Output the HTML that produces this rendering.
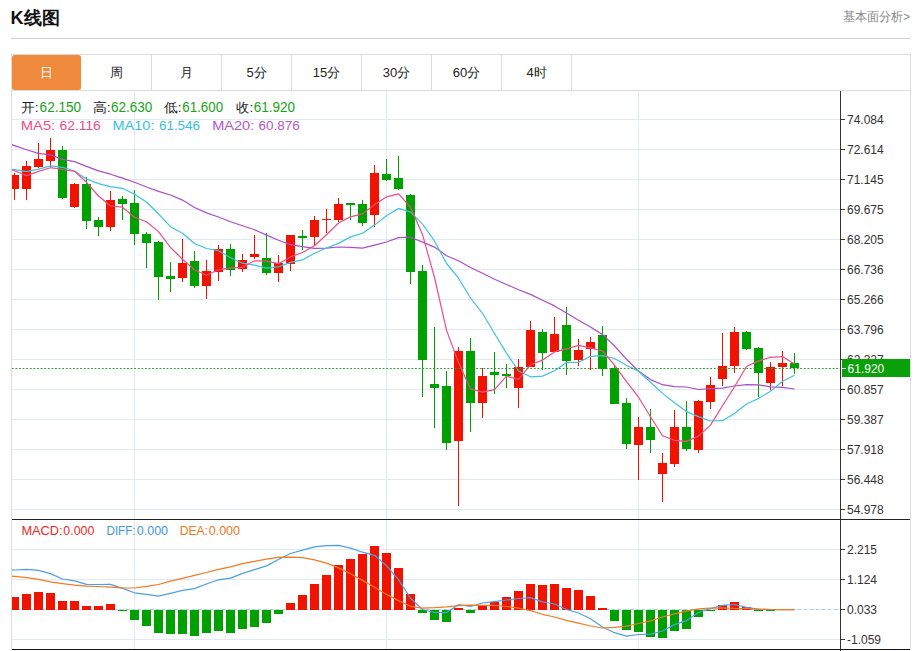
<!DOCTYPE html>
<html><head><meta charset="utf-8"><title>K线图</title>
<style>
html,body{margin:0;padding:0;background:#fff;}
body{width:915px;height:651px;overflow:hidden;font-family:'Liberation Sans', sans-serif;}
svg{display:block;font-family:'Liberation Sans', sans-serif;}
</style></head><body>
<svg width="915" height="651" viewBox="0 0 915 651" shape-rendering="crispEdges">
<defs>
<clipPath id="cm"><rect x="12" y="91" width="828" height="428"/></clipPath>
<clipPath id="cd"><rect x="12" y="520" width="828" height="129"/></clipPath>
</defs>
<rect x="11" y="38" width="900" height="1" fill="#cfcfcf"/>
<rect x="11" y="54" width="900" height="1" fill="#dcdcdc"/>
<rect x="11" y="90" width="900" height="1" fill="#dcdcdc"/>
<rect x="11" y="54" width="1" height="596" fill="#dcdcdc"/>
<rect x="910" y="54" width="1" height="596" fill="#dcdcdc"/>
<rect x="151" y="55" width="1" height="35" fill="#dcdcdc"/>
<rect x="221" y="55" width="1" height="35" fill="#dcdcdc"/>
<rect x="291" y="55" width="1" height="35" fill="#dcdcdc"/>
<rect x="361" y="55" width="1" height="35" fill="#dcdcdc"/>
<rect x="431" y="55" width="1" height="35" fill="#dcdcdc"/>
<rect x="501" y="55" width="1" height="35" fill="#dcdcdc"/>
<rect x="571" y="55" width="1" height="35" fill="#dcdcdc"/>
<rect x="12" y="55" width="69" height="35" rx="2.5" fill="#ef893c" shape-rendering="geometricPrecision"/>
<text x="46.5" y="76.6" font-size="13" fill="#fff" text-anchor="middle">日</text>
<text x="116.5" y="76.6" font-size="13" fill="#222" text-anchor="middle">周</text>
<text x="186.5" y="76.6" font-size="13" fill="#222" text-anchor="middle">月</text>
<text x="256.5" y="76.6" font-size="13" fill="#222" text-anchor="middle">5分</text>
<text x="326.5" y="76.6" font-size="13" fill="#222" text-anchor="middle">15分</text>
<text x="396.5" y="76.6" font-size="13" fill="#222" text-anchor="middle">30分</text>
<text x="466.5" y="76.6" font-size="13" fill="#222" text-anchor="middle">60分</text>
<text x="536.5" y="76.6" font-size="13" fill="#222" text-anchor="middle">4时</text>
<rect x="12" y="119" width="828" height="1" fill="#dfeaf2"/>
<rect x="12" y="149" width="828" height="1" fill="#dfeaf2"/>
<rect x="12" y="179" width="828" height="1" fill="#dfeaf2"/>
<rect x="12" y="209" width="828" height="1" fill="#dfeaf2"/>
<rect x="12" y="239" width="828" height="1" fill="#dfeaf2"/>
<rect x="12" y="269" width="828" height="1" fill="#dfeaf2"/>
<rect x="12" y="299" width="828" height="1" fill="#dfeaf2"/>
<rect x="12" y="329" width="828" height="1" fill="#dfeaf2"/>
<rect x="12" y="359" width="828" height="1" fill="#dfeaf2"/>
<rect x="12" y="389" width="828" height="1" fill="#dfeaf2"/>
<rect x="12" y="419" width="828" height="1" fill="#dfeaf2"/>
<rect x="12" y="449" width="828" height="1" fill="#dfeaf2"/>
<rect x="12" y="479" width="828" height="1" fill="#dfeaf2"/>
<rect x="12" y="509" width="828" height="1" fill="#dfeaf2"/>
<rect x="12" y="549" width="828" height="1" fill="#dfeaf2"/>
<rect x="12" y="579" width="828" height="1" fill="#dfeaf2"/>
<rect x="12" y="609" width="828" height="1" fill="#dfeaf2"/>
<rect x="12" y="639" width="828" height="1" fill="#dfeaf2"/>
<rect x="134" y="91" width="1" height="558" fill="#dfeaf2"/>
<rect x="386" y="91" width="1" height="558" fill="#dfeaf2"/>
<rect x="638" y="91" width="1" height="558" fill="#dfeaf2"/>
<g clip-path="url(#cm)">
<rect x="14" y="173.1" width="1" height="26.7" fill="#f01400"/>
<rect x="10" y="174.5" width="9" height="14.3" fill="#f01400"/>
<rect x="26" y="160.8" width="1" height="39.0" fill="#f01400"/>
<rect x="22" y="166.2" width="9" height="22.6" fill="#f01400"/>
<rect x="38" y="143.0" width="1" height="24.7" fill="#f01400"/>
<rect x="34" y="158.8" width="9" height="8.2" fill="#f01400"/>
<rect x="50" y="138.1" width="1" height="28.4" fill="#f01400"/>
<rect x="46" y="149.9" width="9" height="11.1" fill="#f01400"/>
<rect x="62" y="146.0" width="1" height="52.7" fill="#00a000"/>
<rect x="58" y="149.9" width="9" height="48.1" fill="#00a000"/>
<rect x="74" y="183.0" width="1" height="24.5" fill="#f01400"/>
<rect x="70" y="183.8" width="9" height="23.4" fill="#f01400"/>
<rect x="86" y="176.5" width="1" height="52.2" fill="#00a000"/>
<rect x="82" y="183.8" width="9" height="37.2" fill="#00a000"/>
<rect x="98" y="217.1" width="1" height="18.6" fill="#00a000"/>
<rect x="94" y="220.4" width="9" height="6.8" fill="#00a000"/>
<rect x="110" y="191.3" width="1" height="39.3" fill="#f01400"/>
<rect x="106" y="200.0" width="9" height="27.4" fill="#f01400"/>
<rect x="122" y="196.3" width="1" height="23.7" fill="#00a000"/>
<rect x="118" y="198.9" width="9" height="5.1" fill="#00a000"/>
<rect x="134" y="189.9" width="1" height="55.0" fill="#00a000"/>
<rect x="130" y="203.2" width="9" height="31.0" fill="#00a000"/>
<rect x="146" y="232.0" width="1" height="35.8" fill="#00a000"/>
<rect x="142" y="233.7" width="9" height="9.4" fill="#00a000"/>
<rect x="158" y="241.0" width="1" height="58.7" fill="#00a000"/>
<rect x="154" y="241.6" width="9" height="35.0" fill="#00a000"/>
<rect x="170" y="261.9" width="1" height="30.4" fill="#00a000"/>
<rect x="166" y="275.9" width="9" height="3.5" fill="#00a000"/>
<rect x="182" y="238.8" width="1" height="42.8" fill="#f01400"/>
<rect x="178" y="262.8" width="9" height="14.9" fill="#f01400"/>
<rect x="194" y="251.2" width="1" height="36.5" fill="#00a000"/>
<rect x="190" y="261.0" width="9" height="25.4" fill="#00a000"/>
<rect x="206" y="260.0" width="1" height="38.7" fill="#f01400"/>
<rect x="202" y="271.2" width="9" height="14.4" fill="#f01400"/>
<rect x="218" y="245.2" width="1" height="35.5" fill="#f01400"/>
<rect x="214" y="249.4" width="9" height="22.5" fill="#f01400"/>
<rect x="230" y="244.2" width="1" height="31.9" fill="#00a000"/>
<rect x="226" y="249.4" width="9" height="20.1" fill="#00a000"/>
<rect x="242" y="253.8" width="1" height="18.1" fill="#f01400"/>
<rect x="238" y="259.9" width="9" height="8.9" fill="#f01400"/>
<rect x="254" y="235.4" width="1" height="23.2" fill="#f01400"/>
<rect x="250" y="253.8" width="9" height="3.3" fill="#f01400"/>
<rect x="266" y="233.2" width="1" height="41.5" fill="#00a000"/>
<rect x="262" y="258.1" width="9" height="14.7" fill="#00a000"/>
<rect x="278" y="254.9" width="1" height="26.8" fill="#f01400"/>
<rect x="274" y="262.7" width="9" height="10.1" fill="#f01400"/>
<rect x="290" y="234.7" width="1" height="36.3" fill="#f01400"/>
<rect x="286" y="235.4" width="9" height="28.2" fill="#f01400"/>
<rect x="302" y="229.9" width="1" height="20.2" fill="#00a000"/>
<rect x="298" y="236.1" width="9" height="1.9" fill="#00a000"/>
<rect x="314" y="216.0" width="1" height="28.5" fill="#f01400"/>
<rect x="310" y="219.5" width="9" height="17.0" fill="#f01400"/>
<rect x="326" y="209.0" width="1" height="23.6" fill="#f01400"/>
<rect x="322" y="218.6" width="9" height="1.8" fill="#f01400"/>
<rect x="338" y="197.6" width="1" height="23.9" fill="#f01400"/>
<rect x="334" y="203.5" width="9" height="16.9" fill="#f01400"/>
<rect x="350" y="203.0" width="1" height="17.0" fill="#00a000"/>
<rect x="346" y="203.1" width="9" height="1.8" fill="#00a000"/>
<rect x="362" y="200.1" width="1" height="25.5" fill="#00a000"/>
<rect x="358" y="204.0" width="9" height="18.8" fill="#00a000"/>
<rect x="374" y="165.1" width="1" height="61.4" fill="#f01400"/>
<rect x="370" y="173.2" width="9" height="41.7" fill="#f01400"/>
<rect x="386" y="158.8" width="1" height="22.5" fill="#00a000"/>
<rect x="382" y="174.0" width="9" height="5.9" fill="#00a000"/>
<rect x="398" y="155.9" width="1" height="34.3" fill="#00a000"/>
<rect x="394" y="178.0" width="9" height="10.7" fill="#00a000"/>
<rect x="410" y="193.7" width="1" height="90.4" fill="#00a000"/>
<rect x="406" y="194.7" width="9" height="76.8" fill="#00a000"/>
<rect x="422" y="265.4" width="1" height="131.5" fill="#00a000"/>
<rect x="418" y="271.1" width="9" height="88.5" fill="#00a000"/>
<rect x="434" y="326.8" width="1" height="101.2" fill="#00a000"/>
<rect x="430" y="383.6" width="9" height="4.1" fill="#00a000"/>
<rect x="446" y="370.8" width="1" height="78.8" fill="#00a000"/>
<rect x="442" y="385.7" width="9" height="57.3" fill="#00a000"/>
<rect x="458" y="346.5" width="1" height="159.2" fill="#f01400"/>
<rect x="454" y="351.0" width="9" height="90.2" fill="#f01400"/>
<rect x="470" y="338.3" width="1" height="93.6" fill="#00a000"/>
<rect x="466" y="351.0" width="9" height="51.6" fill="#00a000"/>
<rect x="482" y="368.2" width="1" height="49.5" fill="#f01400"/>
<rect x="478" y="376.0" width="9" height="27.4" fill="#f01400"/>
<rect x="494" y="351.9" width="1" height="42.4" fill="#00a000"/>
<rect x="490" y="372.0" width="9" height="3.3" fill="#00a000"/>
<rect x="506" y="364.3" width="1" height="24.0" fill="#00a000"/>
<rect x="502" y="374.2" width="9" height="1.9" fill="#00a000"/>
<rect x="518" y="359.0" width="1" height="49.4" fill="#f01400"/>
<rect x="514" y="366.8" width="9" height="20.8" fill="#f01400"/>
<rect x="530" y="320.9" width="1" height="46.4" fill="#f01400"/>
<rect x="526" y="329.8" width="9" height="37.5" fill="#f01400"/>
<rect x="542" y="329.4" width="1" height="40.9" fill="#00a000"/>
<rect x="538" y="332.0" width="9" height="20.6" fill="#00a000"/>
<rect x="554" y="317.2" width="1" height="34.3" fill="#f01400"/>
<rect x="550" y="334.0" width="9" height="17.5" fill="#f01400"/>
<rect x="566" y="307.3" width="1" height="67.6" fill="#00a000"/>
<rect x="562" y="324.8" width="9" height="35.8" fill="#00a000"/>
<rect x="578" y="338.6" width="1" height="27.1" fill="#f01400"/>
<rect x="574" y="350.0" width="9" height="9.6" fill="#f01400"/>
<rect x="590" y="337.1" width="1" height="32.7" fill="#f01400"/>
<rect x="586" y="341.8" width="9" height="6.8" fill="#f01400"/>
<rect x="602" y="326.2" width="1" height="49.6" fill="#00a000"/>
<rect x="598" y="335.3" width="9" height="33.3" fill="#00a000"/>
<rect x="614" y="365.3" width="1" height="39.0" fill="#00a000"/>
<rect x="610" y="367.5" width="9" height="36.8" fill="#00a000"/>
<rect x="626" y="397.8" width="1" height="51.2" fill="#00a000"/>
<rect x="622" y="403.2" width="9" height="40.6" fill="#00a000"/>
<rect x="638" y="416.6" width="1" height="63.4" fill="#f01400"/>
<rect x="634" y="427.3" width="9" height="17.4" fill="#f01400"/>
<rect x="650" y="409.1" width="1" height="43.6" fill="#00a000"/>
<rect x="646" y="427.3" width="9" height="12.8" fill="#00a000"/>
<rect x="662" y="453.2" width="1" height="48.9" fill="#f01400"/>
<rect x="658" y="463.2" width="9" height="10.7" fill="#f01400"/>
<rect x="674" y="409.7" width="1" height="56.8" fill="#f01400"/>
<rect x="670" y="427.2" width="9" height="36.7" fill="#f01400"/>
<rect x="686" y="401.0" width="1" height="49.8" fill="#00a000"/>
<rect x="682" y="427.2" width="9" height="22.2" fill="#00a000"/>
<rect x="698" y="400.0" width="1" height="52.7" fill="#f01400"/>
<rect x="694" y="400.8" width="9" height="48.7" fill="#f01400"/>
<rect x="710" y="377.3" width="1" height="31.2" fill="#f01400"/>
<rect x="706" y="385.1" width="9" height="16.7" fill="#f01400"/>
<rect x="722" y="332.7" width="1" height="52.9" fill="#f01400"/>
<rect x="718" y="366.2" width="9" height="12.4" fill="#f01400"/>
<rect x="734" y="327.0" width="1" height="45.7" fill="#f01400"/>
<rect x="730" y="332.0" width="9" height="34.3" fill="#f01400"/>
<rect x="746" y="331.2" width="1" height="19.0" fill="#00a000"/>
<rect x="742" y="332.1" width="9" height="16.4" fill="#00a000"/>
<rect x="758" y="346.9" width="1" height="50.1" fill="#00a000"/>
<rect x="754" y="347.8" width="9" height="24.9" fill="#00a000"/>
<rect x="770" y="362.2" width="1" height="28.0" fill="#f01400"/>
<rect x="766" y="367.1" width="9" height="15.5" fill="#f01400"/>
<rect x="782" y="351.0" width="1" height="34.6" fill="#f01400"/>
<rect x="778" y="362.9" width="9" height="3.7" fill="#f01400"/>
<rect x="794" y="352.8" width="1" height="20.8" fill="#00a000"/>
<rect x="790" y="362.9" width="9" height="5.2" fill="#00a000"/>
<polyline points="2.5,141.5 14.5,145.6 26.5,149.7 38.5,153.4 50.5,154.8 62.5,159.4 74.5,161.6 86.5,166.4 98.5,170.9 110.5,174.2 122.5,178.1 134.5,182.2 146.5,187.0 158.5,191.4 170.5,195.0 182.5,200.1 194.5,207.5 206.5,212.9 218.5,217.0 230.5,221.8 242.5,225.8 254.5,229.8 266.5,235.1 278.5,240.3 290.5,244.6 302.5,246.6 314.5,248.3 326.5,248.2 338.5,247.0 350.5,247.3 362.5,248.2 374.5,245.2 386.5,242.0 398.5,237.6 410.5,237.2 422.5,242.1 434.5,247.1 446.5,255.7 458.5,260.8 470.5,267.5 482.5,273.3 494.5,279.3 506.5,284.5 518.5,289.7 530.5,294.4 542.5,300.2 554.5,305.9 566.5,313.0 578.5,320.3 590.5,327.1 602.5,334.4 614.5,346.0 626.5,359.2 638.5,371.1 650.5,379.6 662.5,384.7 674.5,386.7 686.5,387.0 698.5,389.5 710.5,388.6 722.5,388.1 734.5,386.0 746.5,384.6 758.5,384.9 770.5,386.8 782.5,387.3 794.5,389.0" fill="none" stroke="#aa4ec8" stroke-width="1.2" stroke-linejoin="round" shape-rendering="geometricPrecision"/>
<polyline points="2.5,167.7 14.5,169.7 26.5,171.7 38.5,169.1 50.5,165.9 62.5,167.3 74.5,171.0 86.5,179.0 98.5,183.6 110.5,186.6 122.5,188.3 134.5,194.3 146.5,202.0 158.5,213.8 170.5,226.7 182.5,233.2 194.5,243.5 206.5,248.5 218.5,250.7 230.5,257.7 242.5,263.2 254.5,265.2 266.5,268.2 278.5,266.8 290.5,262.4 302.5,259.9 314.5,253.2 326.5,248.0 338.5,243.4 350.5,236.9 362.5,233.2 374.5,225.1 386.5,215.8 398.5,208.4 410.5,212.1 422.5,224.2 434.5,241.0 446.5,263.5 458.5,278.2 470.5,298.0 482.5,313.3 494.5,333.5 506.5,353.1 518.5,371.0 530.5,376.8 542.5,376.1 554.5,370.7 566.5,362.5 578.5,362.4 590.5,356.3 602.5,355.6 614.5,358.5 626.5,365.2 638.5,371.3 650.5,382.3 662.5,393.4 674.5,402.7 686.5,411.6 698.5,416.6 710.5,421.0 722.5,420.7 734.5,413.5 746.5,404.0 758.5,398.5 770.5,391.2 782.5,381.2 794.5,375.3" fill="none" stroke="#3cc4de" stroke-width="1.2" stroke-linejoin="round" shape-rendering="geometricPrecision"/>
<polyline points="2.5,166.0 14.5,170.8 26.5,175.6 38.5,171.4 50.5,167.7 62.5,169.5 74.5,171.3 86.5,182.3 98.5,196.0 110.5,206.0 122.5,207.2 134.5,217.3 146.5,221.7 158.5,231.6 170.5,247.5 182.5,259.2 194.5,269.7 206.5,275.3 218.5,269.8 230.5,267.9 242.5,267.3 254.5,260.8 266.5,261.1 278.5,263.7 290.5,256.9 302.5,252.5 314.5,245.7 326.5,234.8 338.5,223.0 350.5,216.9 362.5,213.9 374.5,204.6 386.5,196.9 398.5,193.9 410.5,207.2 422.5,234.6 434.5,277.5 446.5,330.1 458.5,362.6 470.5,388.8 482.5,392.1 494.5,389.6 506.5,376.2 518.5,379.4 530.5,364.8 542.5,360.1 554.5,351.9 566.5,348.8 578.5,345.4 590.5,347.8 602.5,351.0 614.5,365.1 626.5,381.7 638.5,397.2 650.5,416.8 662.5,435.7 674.5,440.3 686.5,441.4 698.5,436.1 710.5,425.1 722.5,405.7 734.5,386.7 746.5,366.5 758.5,360.9 770.5,357.3 782.5,356.6 794.5,363.9" fill="none" stroke="#ec4d86" stroke-width="1.2" stroke-linejoin="round" shape-rendering="geometricPrecision"/>
</g>
<line x1="11.85" y1="368.5" x2="840" y2="368.5" stroke="#1fa01f" stroke-width="1.2" stroke-dasharray="1.8,1.8" shape-rendering="geometricPrecision" clip-path="url(#cm)"/>
<line x1="12" y1="609.5" x2="840" y2="609.5" stroke="#9fd3ee" stroke-width="1" stroke-dasharray="3,3"/>
<g clip-path="url(#cd)">
<rect x="10" y="597.4" width="9" height="12.6" fill="#f01400"/>
<rect x="22" y="593.6" width="9" height="16.4" fill="#f01400"/>
<rect x="34" y="592.0" width="9" height="18.0" fill="#f01400"/>
<rect x="46" y="593.4" width="9" height="16.6" fill="#f01400"/>
<rect x="58" y="600.9" width="9" height="9.1" fill="#f01400"/>
<rect x="70" y="601.1" width="9" height="8.9" fill="#f01400"/>
<rect x="82" y="606.2" width="9" height="3.8" fill="#f01400"/>
<rect x="94" y="605.9" width="9" height="4.1" fill="#f01400"/>
<rect x="106" y="604.2" width="9" height="5.8" fill="#f01400"/>
<rect x="118" y="610" width="9" height="1.0" fill="#00a000"/>
<rect x="130" y="610" width="9" height="9.7" fill="#00a000"/>
<rect x="142" y="610" width="9" height="15.9" fill="#00a000"/>
<rect x="154" y="610" width="9" height="23.1" fill="#00a000"/>
<rect x="166" y="610" width="9" height="24.2" fill="#00a000"/>
<rect x="178" y="610" width="9" height="23.8" fill="#00a000"/>
<rect x="190" y="610" width="9" height="26.3" fill="#00a000"/>
<rect x="202" y="610" width="9" height="23.0" fill="#00a000"/>
<rect x="214" y="610" width="9" height="20.8" fill="#00a000"/>
<rect x="226" y="610" width="9" height="22.6" fill="#00a000"/>
<rect x="238" y="610" width="9" height="19.4" fill="#00a000"/>
<rect x="250" y="610" width="9" height="16.5" fill="#00a000"/>
<rect x="262" y="610" width="9" height="13.4" fill="#00a000"/>
<rect x="274" y="610" width="9" height="4.1" fill="#00a000"/>
<rect x="286" y="602.9" width="9" height="7.1" fill="#f01400"/>
<rect x="298" y="595.0" width="9" height="15.0" fill="#f01400"/>
<rect x="310" y="584.0" width="9" height="26.0" fill="#f01400"/>
<rect x="322" y="575.0" width="9" height="35.0" fill="#f01400"/>
<rect x="334" y="565.0" width="9" height="45.0" fill="#f01400"/>
<rect x="346" y="558.7" width="9" height="51.3" fill="#f01400"/>
<rect x="358" y="553.5" width="9" height="56.5" fill="#f01400"/>
<rect x="370" y="545.9" width="9" height="64.1" fill="#f01400"/>
<rect x="382" y="552.9" width="9" height="57.1" fill="#f01400"/>
<rect x="394" y="568.0" width="9" height="42.0" fill="#f01400"/>
<rect x="406" y="594.0" width="9" height="16.0" fill="#f01400"/>
<rect x="418" y="610" width="9" height="2.8" fill="#00a000"/>
<rect x="430" y="610" width="9" height="9.7" fill="#00a000"/>
<rect x="442" y="610" width="9" height="11.5" fill="#00a000"/>
<rect x="454" y="608.2" width="9" height="1.8" fill="#f01400"/>
<rect x="466" y="610" width="9" height="2.8" fill="#00a000"/>
<rect x="478" y="605.2" width="9" height="4.8" fill="#f01400"/>
<rect x="490" y="602.4" width="9" height="7.6" fill="#f01400"/>
<rect x="502" y="597.0" width="9" height="13.0" fill="#f01400"/>
<rect x="514" y="590.6" width="9" height="19.4" fill="#f01400"/>
<rect x="526" y="583.9" width="9" height="26.1" fill="#f01400"/>
<rect x="538" y="585.3" width="9" height="24.7" fill="#f01400"/>
<rect x="550" y="583.9" width="9" height="26.1" fill="#f01400"/>
<rect x="562" y="588.2" width="9" height="21.8" fill="#f01400"/>
<rect x="574" y="589.5" width="9" height="20.5" fill="#f01400"/>
<rect x="586" y="595.6" width="9" height="14.4" fill="#f01400"/>
<rect x="598" y="608.2" width="9" height="1.8" fill="#f01400"/>
<rect x="610" y="610" width="9" height="10.9" fill="#00a000"/>
<rect x="622" y="610" width="9" height="20.0" fill="#00a000"/>
<rect x="634" y="610" width="9" height="21.9" fill="#00a000"/>
<rect x="646" y="610" width="9" height="26.5" fill="#00a000"/>
<rect x="658" y="610" width="9" height="28.0" fill="#00a000"/>
<rect x="670" y="610" width="9" height="21.4" fill="#00a000"/>
<rect x="682" y="610" width="9" height="18.7" fill="#00a000"/>
<rect x="694" y="610" width="9" height="7.2" fill="#00a000"/>
<rect x="706" y="610" width="9" height="1.0" fill="#00a000"/>
<rect x="718" y="605.3" width="9" height="4.7" fill="#f01400"/>
<rect x="730" y="602.2" width="9" height="7.8" fill="#f01400"/>
<rect x="742" y="607.1" width="9" height="2.9" fill="#f01400"/>
<rect x="754" y="610" width="9" height="1.0" fill="#00a000"/>
<rect x="766" y="610" width="9" height="1.0" fill="#00a000"/>
<polyline points="2.5,570.5 14.5,570.0 26.5,569.4 38.5,570.4 50.5,573.6 62.5,579.0 74.5,580.8 86.5,584.3 98.5,584.5 110.5,584.4 122.5,588.4 134.5,592.8 146.5,594.3 158.5,596.1 170.5,593.3 182.5,590.3 194.5,588.6 206.5,584.0 218.5,579.8 230.5,578.1 242.5,573.4 254.5,569.6 266.5,565.9 278.5,559.5 290.5,553.5 302.5,550.1 314.5,546.8 326.5,545.6 338.5,545.4 350.5,548.1 362.5,552.2 374.5,555.3 386.5,565.8 398.5,579.6 410.5,598.3 422.5,609.5 434.5,612.5 446.5,612.6 458.5,604.7 470.5,606.5 482.5,603.0 494.5,601.6 506.5,600.0 518.5,598.5 530.5,597.6 542.5,601.9 554.5,604.0 566.5,609.5 578.5,613.0 590.5,618.8 602.5,627.0 614.5,632.7 626.5,636.2 638.5,634.5 650.5,634.2 662.5,631.0 674.5,624.6 686.5,620.6 698.5,612.5 710.5,608.5 722.5,605.4 734.5,604.5 746.5,607.3 758.5,609.4 770.5,609.6 782.5,609.6 794.5,609.6" fill="none" stroke="#4a9fe8" stroke-width="1.2" stroke-linejoin="round" shape-rendering="geometricPrecision"/>
<polyline points="2.5,575.0 14.5,576.3 26.5,577.6 38.5,579.4 50.5,581.9 62.5,583.6 74.5,585.2 86.5,586.2 98.5,586.5 110.5,587.2 122.5,587.9 134.5,588.0 146.5,586.3 158.5,584.5 170.5,581.2 182.5,578.4 194.5,575.4 206.5,572.5 218.5,569.4 230.5,566.8 242.5,563.7 254.5,561.3 266.5,559.2 278.5,557.4 290.5,557.1 302.5,557.6 314.5,559.8 326.5,563.1 338.5,567.9 350.5,573.8 362.5,580.4 374.5,587.3 386.5,594.4 398.5,600.6 410.5,606.3 422.5,608.2 434.5,607.7 446.5,606.9 458.5,605.6 470.5,605.2 482.5,605.3 494.5,605.4 506.5,606.5 518.5,608.2 530.5,610.6 542.5,614.3 554.5,617.0 566.5,620.3 578.5,623.2 590.5,626.0 602.5,628.0 614.5,627.3 626.5,626.2 638.5,623.5 650.5,620.9 662.5,617.0 674.5,613.9 686.5,611.2 698.5,608.9 710.5,608.1 722.5,607.8 734.5,608.4 746.5,608.7 758.5,609.1 770.5,609.5 782.5,609.6 794.5,609.6" fill="none" stroke="#f27a22" stroke-width="1.2" stroke-linejoin="round" shape-rendering="geometricPrecision"/>
</g>
<rect x="12" y="519" width="898" height="1" fill="#222"/>
<rect x="12" y="649" width="898" height="1" fill="#111"/>
<rect x="840" y="91" width="1" height="560" fill="#333"/>
<rect x="841" y="119" width="4" height="1" fill="#333"/>
<text x="847" y="123.5" font-size="12" fill="#333">74.084</text>
<rect x="841" y="149" width="4" height="1" fill="#333"/>
<text x="847" y="153.5" font-size="12" fill="#333">72.614</text>
<rect x="841" y="179" width="4" height="1" fill="#333"/>
<text x="847" y="183.5" font-size="12" fill="#333">71.145</text>
<rect x="841" y="209" width="4" height="1" fill="#333"/>
<text x="847" y="213.5" font-size="12" fill="#333">69.675</text>
<rect x="841" y="239" width="4" height="1" fill="#333"/>
<text x="847" y="243.5" font-size="12" fill="#333">68.205</text>
<rect x="841" y="269" width="4" height="1" fill="#333"/>
<text x="847" y="273.5" font-size="12" fill="#333">66.736</text>
<rect x="841" y="299" width="4" height="1" fill="#333"/>
<text x="847" y="303.5" font-size="12" fill="#333">65.266</text>
<rect x="841" y="329" width="4" height="1" fill="#333"/>
<text x="847" y="333.5" font-size="12" fill="#333">63.796</text>
<rect x="841" y="359" width="4" height="1" fill="#333"/>
<text x="847" y="363.5" font-size="12" fill="#333">62.327</text>
<rect x="841" y="389" width="4" height="1" fill="#333"/>
<text x="847" y="393.5" font-size="12" fill="#333">60.857</text>
<rect x="841" y="419" width="4" height="1" fill="#333"/>
<text x="847" y="423.5" font-size="12" fill="#333">59.387</text>
<rect x="841" y="449" width="4" height="1" fill="#333"/>
<text x="847" y="453.5" font-size="12" fill="#333">57.918</text>
<rect x="841" y="479" width="4" height="1" fill="#333"/>
<text x="847" y="483.5" font-size="12" fill="#333">56.448</text>
<rect x="841" y="509" width="4" height="1" fill="#333"/>
<text x="847" y="513.5" font-size="12" fill="#333">54.978</text>
<rect x="841" y="549" width="4" height="1" fill="#333"/>
<text x="847" y="553.5" font-size="12" fill="#333">2.215</text>
<rect x="841" y="579" width="4" height="1" fill="#333"/>
<text x="847" y="583.5" font-size="12" fill="#333">1.124</text>
<rect x="841" y="609" width="4" height="1" fill="#333"/>
<text x="847" y="613.5" font-size="12" fill="#333">0.033</text>
<rect x="841" y="639" width="4" height="1" fill="#333"/>
<text x="847" y="643.5" font-size="12" fill="#333">-1.059</text>
<rect x="842" y="359" width="68" height="18" fill="#0aa00a"/>
<rect x="842" y="368" width="4" height="1" fill="#fff"/>
<text x="847.6" y="373" font-size="12.5" fill="#fff" textLength="36.6" lengthAdjust="spacingAndGlyphs">61.920</text>
<text id="t_title" x="10.64" y="23.5" font-size="18" font-weight="bold" fill="#111" textLength="49.14" lengthAdjust="spacingAndGlyphs">K线图</text>
<text id="t_fund" x="842.50" y="21.0" font-size="12.5" font-weight="normal" fill="#888" textLength="67.67" lengthAdjust="spacingAndGlyphs">基本面分析&gt;</text>
<text id="l_open" x="20.76" y="111.7" font-size="13" font-weight="normal" fill="#222" textLength="17.85" lengthAdjust="spacingAndGlyphs">开:</text>
<text id="v_open" x="39.61" y="111.8" font-size="14" font-weight="normal" fill="#17a317" textLength="41.55" lengthAdjust="spacingAndGlyphs">62.150</text>
<text id="l_high" x="92.74" y="111.7" font-size="13" font-weight="normal" fill="#222" textLength="17.82" lengthAdjust="spacingAndGlyphs">高:</text>
<text id="v_high" x="110.96" y="111.8" font-size="14" font-weight="normal" fill="#17a317" textLength="41.45" lengthAdjust="spacingAndGlyphs">62.630</text>
<text id="l_low" x="164.03" y="111.7" font-size="13" font-weight="normal" fill="#222" textLength="17.57" lengthAdjust="spacingAndGlyphs">低:</text>
<text id="v_low" x="182.32" y="111.8" font-size="14" font-weight="normal" fill="#17a317" textLength="40.76" lengthAdjust="spacingAndGlyphs">61.600</text>
<text id="l_close" x="236.32" y="111.7" font-size="13" font-weight="normal" fill="#222" textLength="16.99" lengthAdjust="spacingAndGlyphs">收:</text>
<text id="v_close" x="253.79" y="111.8" font-size="14" font-weight="normal" fill="#17a317" textLength="41.31" lengthAdjust="spacingAndGlyphs">61.920</text>
<text id="l_ma5" x="20.72" y="129.7" font-size="13.5" font-weight="normal" fill="#ec4d86" textLength="34.51" lengthAdjust="spacingAndGlyphs">MA5:</text>
<text id="v_ma5" x="59.61" y="129.7" font-size="13.5" font-weight="normal" fill="#ec4d86" textLength="41.15" lengthAdjust="spacingAndGlyphs">62.116</text>
<text id="l_ma10" x="112.48" y="129.7" font-size="13.5" font-weight="normal" fill="#36c2dc" textLength="42.02" lengthAdjust="spacingAndGlyphs">MA10:</text>
<text id="v_ma10" x="158.96" y="129.7" font-size="13.5" font-weight="normal" fill="#36c2dc" textLength="41.04" lengthAdjust="spacingAndGlyphs">61.546</text>
<text id="l_ma20" x="212.17" y="129.7" font-size="13.5" font-weight="normal" fill="#b256cc" textLength="42.08" lengthAdjust="spacingAndGlyphs">MA20:</text>
<text id="v_ma20" x="258.49" y="129.7" font-size="13.5" font-weight="normal" fill="#b256cc" textLength="41.16" lengthAdjust="spacingAndGlyphs">60.876</text>
<text id="l_macd" x="21.40" y="534.8" font-size="13" font-weight="normal" fill="#ee2a22" textLength="41.24" lengthAdjust="spacingAndGlyphs">MACD:</text>
<text id="v_macd" x="63.34" y="534.8" font-size="13" font-weight="normal" fill="#ee2a22" textLength="31.00" lengthAdjust="spacingAndGlyphs">0.000</text>
<text id="l_diff" x="106.48" y="534.8" font-size="13" font-weight="normal" fill="#3d96e8" textLength="29.12" lengthAdjust="spacingAndGlyphs">DIFF:</text>
<text id="v_diff" x="136.76" y="534.8" font-size="13" font-weight="normal" fill="#3d96e8" textLength="31.32" lengthAdjust="spacingAndGlyphs">0.000</text>
<text id="l_dea" x="179.66" y="534.8" font-size="13" font-weight="normal" fill="#f27520" textLength="28.30" lengthAdjust="spacingAndGlyphs">DEA:</text>
<text id="v_dea" x="208.65" y="534.8" font-size="13" font-weight="normal" fill="#f27520" textLength="31.48" lengthAdjust="spacingAndGlyphs">0.000</text>
</svg>
</body></html>
